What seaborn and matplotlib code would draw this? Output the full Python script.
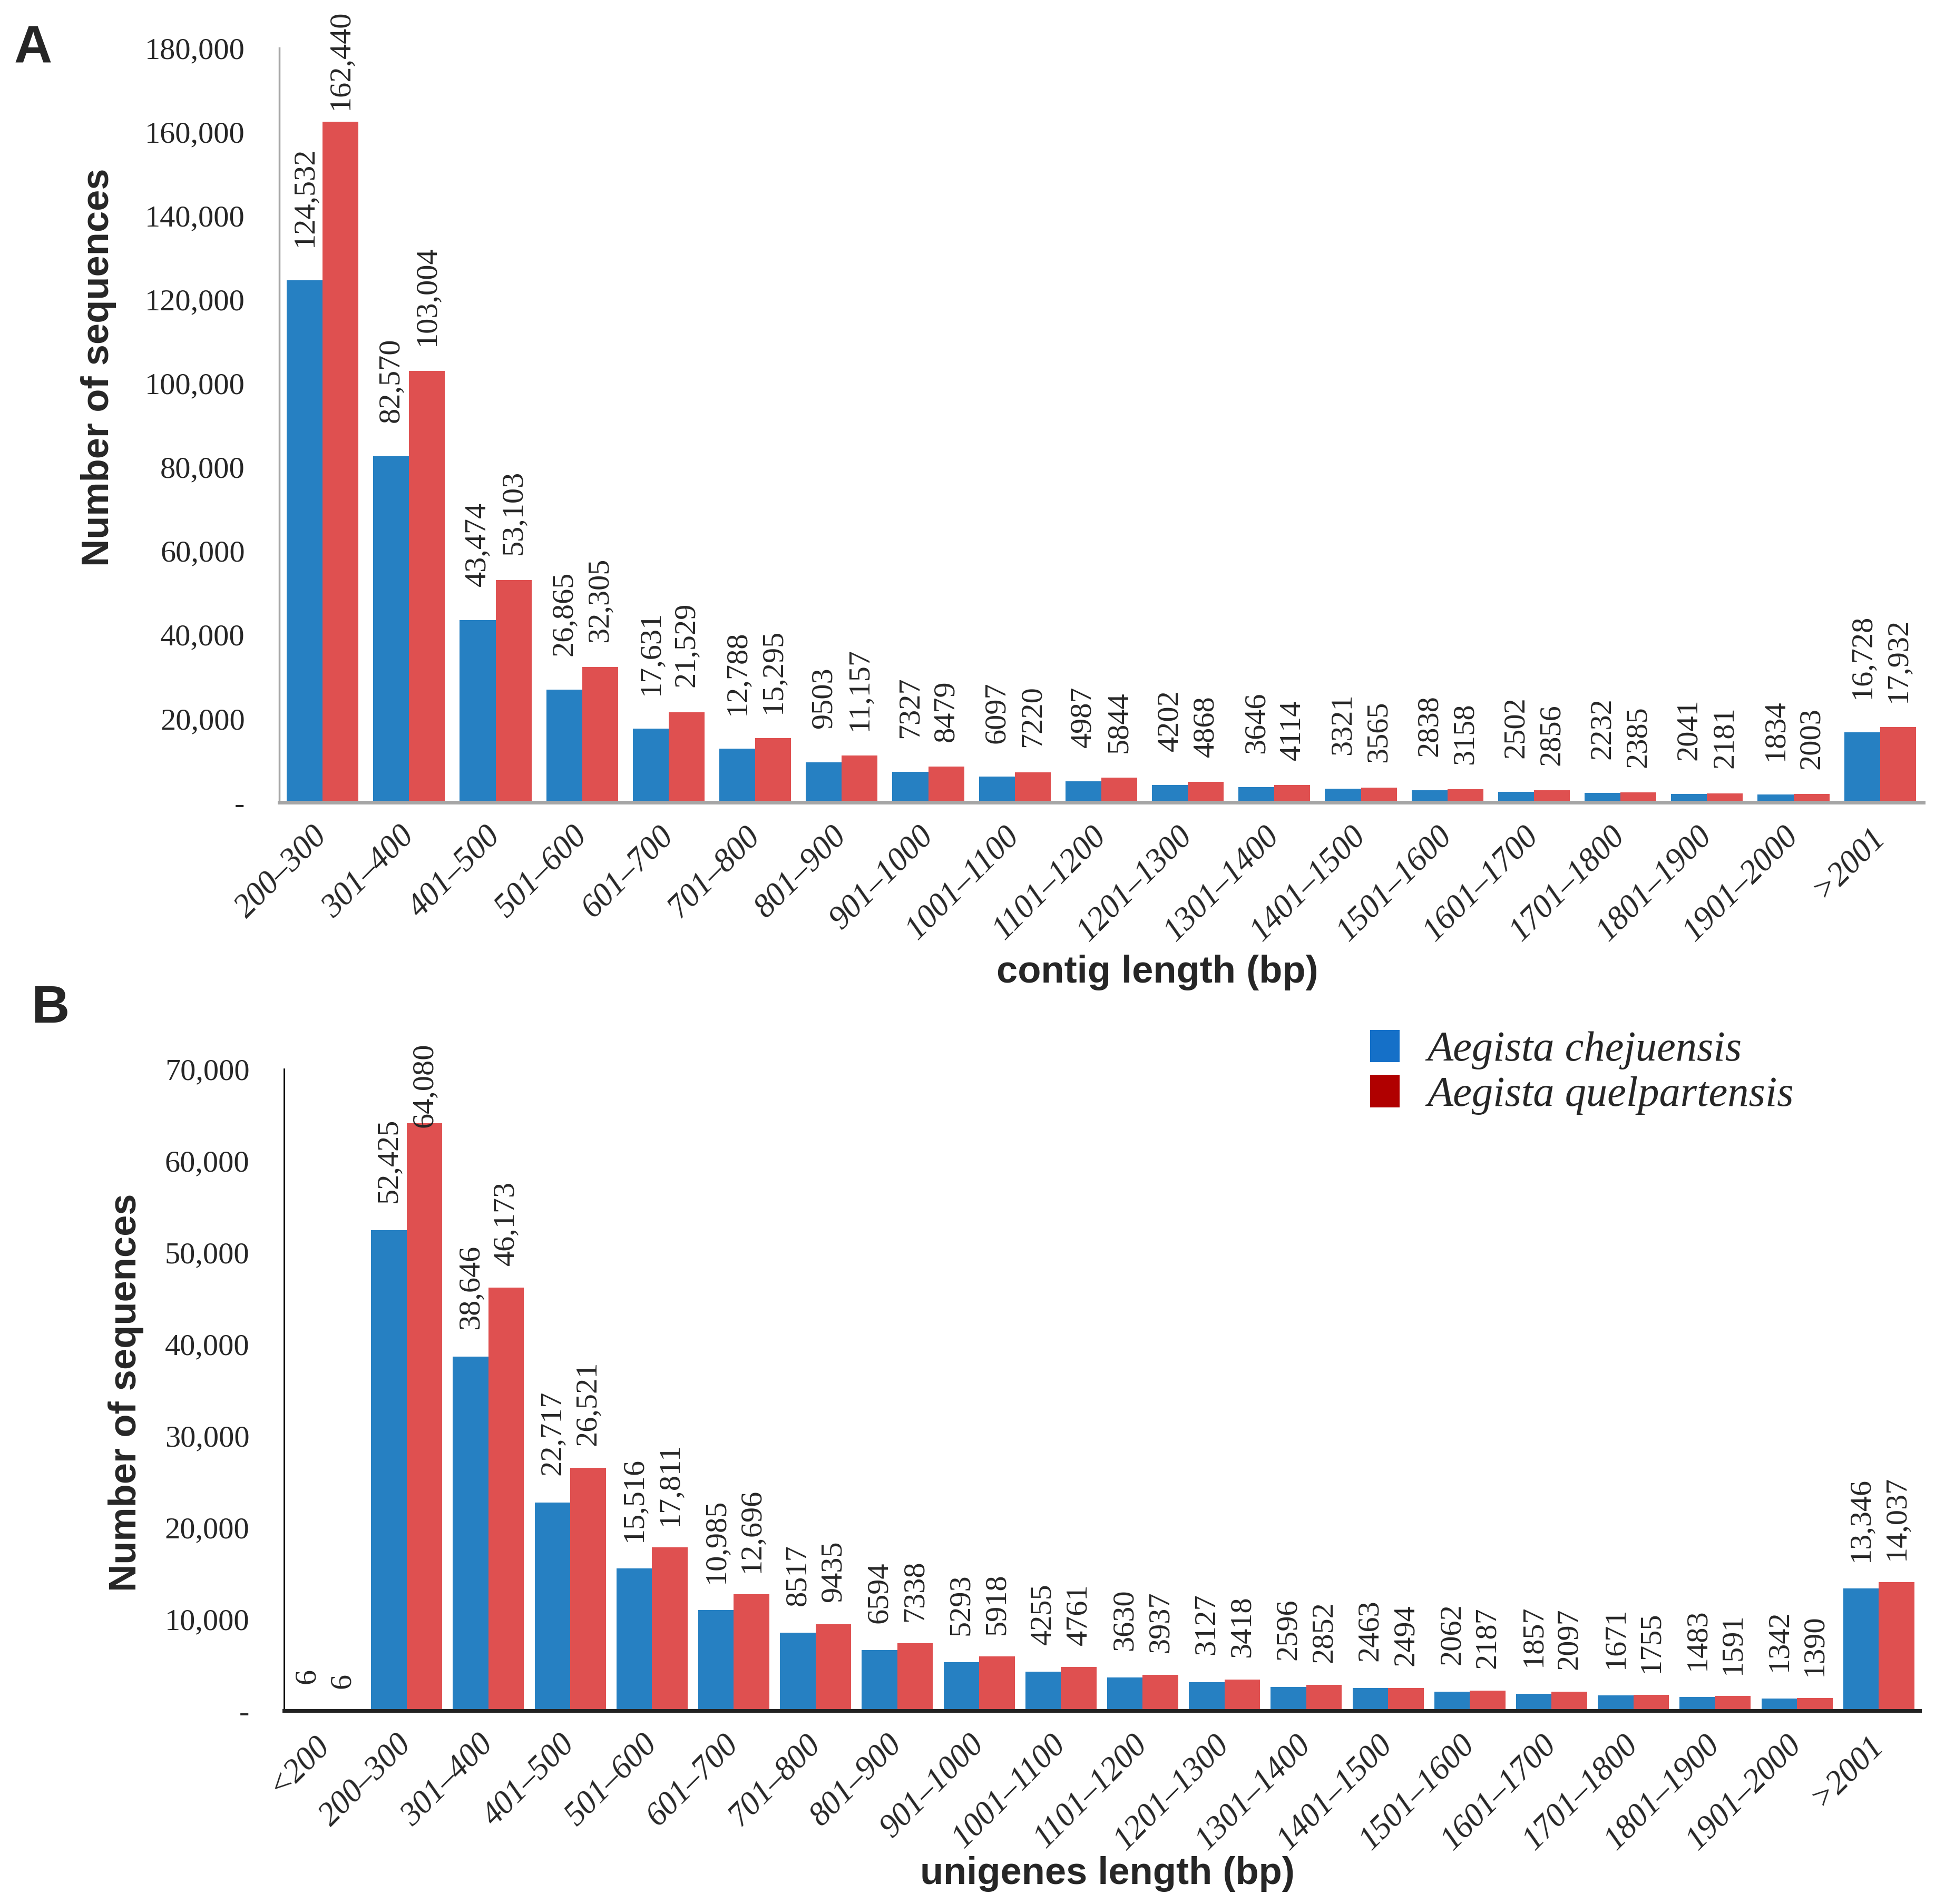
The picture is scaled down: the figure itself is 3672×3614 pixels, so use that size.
import numpy as np
import pandas as pd
import matplotlib
matplotlib.use("Agg")
import matplotlib.pyplot as plt
import seaborn as sns
from matplotlib.patches import Patch
from matplotlib.ticker import FixedLocator

# ---------------- data ----------------
contig_bins = ["200–300", "301–400", "401–500", "501–600", "601–700", "701–800",
               "801–900", "901–1000", "1001–1100", "1101–1200", "1201–1300",
               "1301–1400", "1401–1500", "1501–1600", "1601–1700", "1701–1800",
               "1801–1900", "1901–2000", ">2001"]
contig_chejuensis = [124532, 82570, 43474, 26865, 17631, 12788, 9503, 7327, 6097,
                     4987, 4202, 3646, 3321, 2838, 2502, 2232, 2041, 1834, 16728]
contig_quelpartensis = [162440, 103004, 53103, 32305, 21529, 15295, 11157, 8479, 7220,
                        5844, 4868, 4114, 3565, 3158, 2856, 2385, 2181, 2003, 17932]

unigene_bins = ["<200", "200–300", "301–400", "401–500", "501–600", "601–700",
                "701–800", "801–900", "901–1000", "1001–1100", "1101–1200",
                "1201–1300", "1301–1400", "1401–1500", "1501–1600", "1601–1700",
                "1701–1800", "1801–1900", "1901–2000", ">2001"]
unigene_chejuensis = [6, 52425, 38646, 22717, 15516, 10985, 8517, 6594, 5293, 4255,
                      3630, 3127, 2596, 2463, 2062, 1857, 1671, 1483, 1342, 13346]
unigene_quelpartensis = [6, 64080, 46173, 26521, 17811, 12696, 9435, 7338, 5918, 4761,
                         3937, 3418, 2852, 2494, 2187, 2097, 1755, 1591, 1390, 14037]

species = ["Aegista chejuensis", "Aegista quelpartensis"]
contig_yticks = [0, 20000, 40000, 60000, 80000, 100000, 120000, 140000, 160000, 180000]
unigene_yticks = [0, 10000, 20000, 30000, 40000, 50000, 60000, 70000]

bar_colors = ["#2680C2", "#DF5050"]
legend_colors = ["#1570C8", "#B00000"]

# ---------------- style ----------------
sns.set_style("white")
plt.rcParams["font.family"] = ["Liberation Serif", "DejaVu Serif"]

SANS = ["Liberation Sans", "DejaVu Sans"]
SERIF = ["Liberation Serif", "DejaVu Serif"]


def long_df(bins, a, b):
    return pd.DataFrame({
        "bin": list(bins) * 2,
        "count": list(a) + list(b),
        "species": [species[0]] * len(bins) + [species[1]] * len(bins),
    })


def fmt(v):
    return f"{v:,}" if v >= 10000 else str(v)


W, H = 3673, 3614
fig = plt.figure(figsize=(W / 100, H / 100), dpi=100)
axA = fig.add_axes([0.1443, 0.5786, 0.9937 - 0.1443, 0.9748 - 0.5786])
axB = fig.add_axes([0.1467, 0.1015, 0.9918 - 0.1467, 0.4386 - 0.1015])

# (axes, bins, series a, series b, yticks, bar width, label size, x label,
#  label pads (pt) for each series, max label top in figure px from bottom)
panels = [
    (axA, contig_bins, contig_chejuensis, contig_quelpartensis, contig_yticks,
     0.83, 42, "contig length (bp)", (46, 34), H - 18),
    (axB, unigene_bins, unigene_chejuensis, unigene_quelpartensis, unigene_yticks,
     0.87, 42, "unigenes length (bp)", (37, 30), H - 1980),
]

all_labels = []
for ax, bins, a, b, yt, w, lfs, xlabel, pads, top_limit in panels:
    df = long_df(bins, a, b)
    sns.barplot(data=df, x="bin", y="count", hue="species", order=bins,
                hue_order=species, palette=bar_colors, width=w, saturation=1,
                linewidth=0, errorbar=None, legend=False, ax=ax)
    for cont, vals, pad in zip(ax.containers, [a, b], pads):
        for patch, v in zip(cont.patches, vals):
            t = ax.annotate(fmt(v),
                            xy=(patch.get_x() + patch.get_width() / 2, patch.get_height()),
                            xytext=(0, pad), textcoords="offset points",
                            rotation=90, ha="center", va="bottom",
                            fontsize=lfs, family=SERIF, annotation_clip=False)
            all_labels.append((t, pad, top_limit))
    n = len(bins)
    ax.set_xlim(-0.5, n - 0.5)
    ax.set_ylim(0, yt[-1])
    ax.set_yticks(yt)
    ax.set_yticklabels(["-"] + [f"{t:,}" for t in yt[1:]], fontsize=42, family=SERIF)
    ax.set_xticks(range(n))
    ax.set_xticklabels(bins, rotation=45, ha="right", va="center",
                       rotation_mode="anchor", fontsize=45, style="italic", family=SERIF)
    for s in ["top", "right"]:
        ax.spines[s].set_visible(False)
    ax.set_xlabel(xlabel, fontsize=52, fontweight="bold", family=SANS, va="center")
    ax.set_ylabel("Number of sequences", fontsize=52, fontweight="bold", family=SANS,
                  va="center")
    ax.grid(False)

# panel A axes styling (grey, ticks between categories)
gray = "#A6A6A6"
axA.spines["left"].set_color(gray)
axA.spines["left"].set_linewidth(2.5)
axA.spines["bottom"].set_color(gray)
axA.spines["bottom"].set_linewidth(5)
axA.xaxis.set_minor_locator(FixedLocator(np.arange(-0.5, len(contig_bins), 1.0)))
axA.tick_params(axis="x", which="major", length=0, pad=40)
axA.tick_params(axis="x", which="minor", length=16, width=2.5, color=gray, direction="out")
axA.tick_params(axis="y", which="major", length=12, width=2.5, color=gray,
                direction="out", pad=35)
axA.xaxis.set_label_coords(0.534, -0.2256)
axA.yaxis.set_label_coords(-0.110, 0.577)

# panel B axes styling (black, no x ticks)
axB.spines["left"].set_color("black")
axB.spines["left"].set_linewidth(2)
axB.spines["bottom"].set_color("#222222")
axB.spines["bottom"].set_linewidth(5)
axB.tick_params(axis="x", which="major", length=0, pad=40)
axB.tick_params(axis="y", which="major", length=12, width=2, color="black",
                direction="out", pad=35)
axB.xaxis.set_label_coords(0.5035, -0.2545)
axB.yaxis.set_label_coords(-0.0966, 0.496)

# legend
handles = [Patch(facecolor=c, edgecolor="none", label=s) for c, s in zip(legend_colors, species)]
axB.legend(handles=handles, loc="upper left", bbox_to_anchor=(0.651, 1.094),
           frameon=False, borderpad=0, handlelength=0.7, handleheight=0.8,
           handletextpad=0.65, labelspacing=0.12,
           prop={"family": SERIF, "style": "italic", "size": 58})

# panel letters
fig.text(0.017, 0.974, "A", fontsize=72, fontweight="bold", family=SANS, va="center", ha="center")
fig.text(0.026, 0.470, "B", fontsize=72, fontweight="bold", family=SANS, va="center", ha="center")

# keep value labels inside the chart area (pull down labels that would overflow)
fig.canvas.draw()
renderer = fig.canvas.get_renderer()
for t, pad, top_limit in all_labels:
    bb = t.get_window_extent(renderer)
    if bb.y1 > top_limit:
        over_pt = (bb.y1 - top_limit) * 72 / fig.dpi
        t.set_position((0, pad - over_pt))

fig.savefig("out.png", dpi=100, facecolor="white")
